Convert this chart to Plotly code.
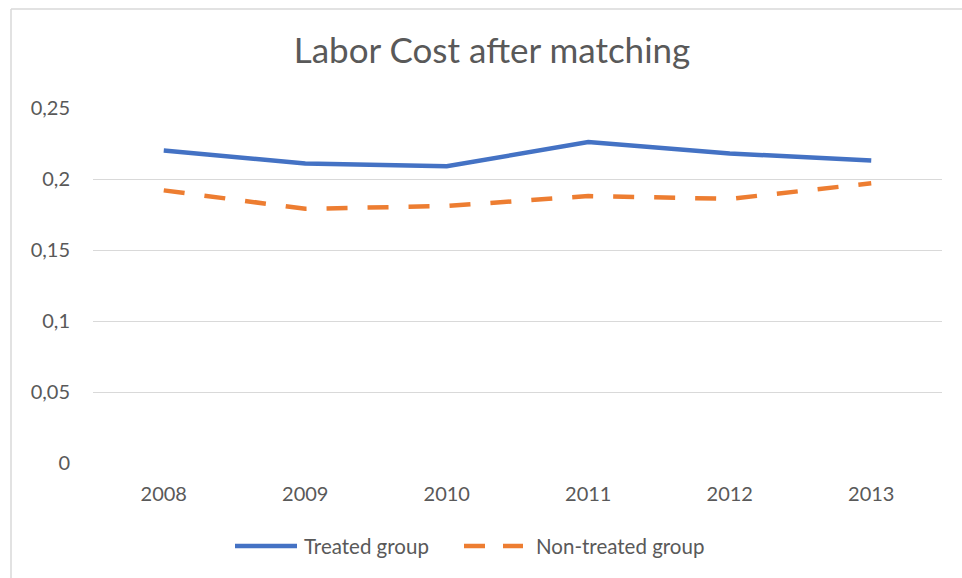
import plotly.graph_objects as go

years = ["2008", "2009", "2010", "2011", "2012", "2013"]
treated = [0.220, 0.211, 0.209, 0.226, 0.218, 0.213]
non_treated = [0.192, 0.179, 0.181, 0.188, 0.186, 0.197]
y_ticks = [0, 0.05, 0.10, 0.15, 0.20, 0.25]
series_names = ["Treated group", "Non-treated group"]
colors = ["#4472C4", "#ED7D31"]

W, H = 962, 578
L, R, T, B = 93, 20, 108, 115
pw, ph = W - L - R, H - T - B

def px_x(px):
    return (px - L) / pw

def px_y(py):
    return (H - B - py) / ph

xs = list(range(len(years)))

fig = go.Figure()
fig.add_trace(go.Scatter(
    x=xs, y=treated, mode="lines", name=series_names[0],
    line=dict(color=colors[0], width=4.5),
))
fig.add_trace(go.Scatter(
    x=xs, y=non_treated, mode="lines", name=series_names[1],
    line=dict(color=colors[1], width=4.5, dash="21px,20px"),
))

font_family = "Lato, 'Open Sans', sans-serif"
leg_y = px_y(546)

fig.update_layout(
    width=W, height=H,
    margin=dict(l=L, r=R, t=T, b=B),
    paper_bgcolor="white", plot_bgcolor="white",
    separators=",.",
    font=dict(family=font_family, color="#595959", size=20),
    title=dict(text="Labor Cost after matching", x=492 / W, xref="container",
               xanchor="center", y=1 - 51 / H, yanchor="middle",
               font=dict(size=35, color="#595959", family=font_family)),
    showlegend=False,
    xaxis=dict(range=[-0.5, 5.5], tickmode="array", tickvals=xs, ticktext=years,
               showgrid=False, zeroline=False, showline=False, ticks="",
               ticklabelstandoff=17, fixedrange=True),
    yaxis=dict(range=[0, 0.25], tickmode="array", tickvals=y_ticks,
               showgrid=True, gridcolor="#D9D9D9", gridwidth=1.3,
               zeroline=False, showline=False, ticks="",
               ticklabelstandoff=22, fixedrange=True),
    shapes=[
        dict(type="line", xref="paper", yref="paper",
             x0=px_x(11), x1=px_x(11), y0=px_y(9), y1=px_y(580),
             line=dict(color="#D9D9D9", width=1.5)),
        dict(type="line", xref="paper", yref="paper",
             x0=px_x(11), x1=px_x(965), y0=px_y(9), y1=px_y(9),
             line=dict(color="#D9D9D9", width=1.5)),
        # legend keys
        dict(type="line", xref="paper", yref="paper",
             x0=px_x(235), x1=px_x(297), y0=leg_y, y1=leg_y,
             line=dict(color=colors[0], width=4.5)),
        dict(type="line", xref="paper", yref="paper",
             x0=px_x(464), x1=px_x(523), y0=leg_y, y1=leg_y,
             line=dict(color=colors[1], width=4.5, dash="21px,18px")),
    ],
    annotations=[
        dict(text=series_names[0], xref="paper", yref="paper",
             x=px_x(302), y=leg_y, xanchor="left", yanchor="middle",
             showarrow=False, font=dict(size=20.5, color="#595959")),
        dict(text=series_names[1], xref="paper", yref="paper",
             x=px_x(534), y=leg_y, xanchor="left", yanchor="middle",
             showarrow=False, font=dict(size=20.5, color="#595959")),
    ],
)

fig.write_html("out.html", config={"displayModeBar": False},
               post_script="document.body.style.margin='0px';")
